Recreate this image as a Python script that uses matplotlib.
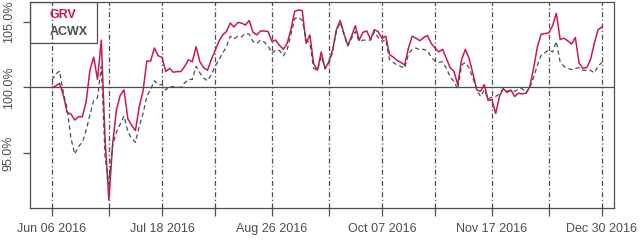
import numpy as np
import matplotlib
matplotlib.use("Agg")
import matplotlib.pyplot as plt
from matplotlib.patches import Rectangle

# cumulative wealth index in %, one value per trading day Jun 06 2016 .. Dec 30 2016
grv = [100.0, 100.1, 100.3, 99.4, 98.07, 97.96, 97.5, 97.76, 97.76, 98.9,
       101.3, 102.3, 100.6, 103.6, 96.0, 91.4, 95.7, 98.3, 99.4, 99.8,
       97.6, 97.1, 96.7, 98.5, 99.7, 102.0, 102.0, 103.0, 102.4, 102.3,
       101.2, 101.45, 101.15, 101.2, 101.2, 101.6, 102.1, 101.95, 103.1, 101.95,
       101.5, 101.3, 102.1, 102.8, 103.5, 104.0, 104.25, 104.9, 104.6, 104.95,
       104.9, 104.75, 105.1, 104.2, 104.0, 104.3, 104.3, 104.25, 103.5, 103.6,
       103.2, 102.9, 103.35, 104.4, 105.8, 105.9, 105.85, 103.35, 104.0, 101.8,
       101.3, 102.7, 101.4, 101.95, 102.85, 104.4, 105.1, 104.1, 103.2, 103.9,
       104.7, 103.6, 104.2, 104.3, 103.65, 104.4, 104.25, 103.75, 103.9, 102.5,
       102.3, 102.05, 101.9, 101.7, 103.0, 103.9, 103.75, 103.55, 103.8, 103.95,
       103.35, 103.0, 102.7, 102.9, 102.2, 101.5, 101.2, 100.2, 102.1, 102.9,
       102.2, 101.05, 99.8, 99.7, 100.2, 99.0, 99.05, 98.0, 99.3, 99.9,
       99.6, 99.8, 99.3, 99.55, 99.5, 99.55, 100.05, 101.45, 103.1, 104.05,
       104.1, 104.15, 104.7, 105.65, 103.65, 103.75, 103.55, 103.3, 103.8, 101.85,
       101.45, 101.5, 102.1, 103.35, 104.4, 104.6]
acwx = [100.56, 101.0, 101.25, 99.55, 98.4, 96.1, 94.9, 95.5, 95.8, 96.7,
        97.9, 99.0, 99.2, 101.6, 94.7, 92.6, 95.6, 96.6, 97.2, 97.8,
        96.6, 96.1, 95.8, 97.0, 98.0, 99.3, 99.85, 100.5, 100.2, 100.2,
        99.8, 100.05, 100.05, 100.0, 100.0, 100.35, 100.6, 100.6, 101.6, 101.1,
        100.7, 100.5, 100.95, 101.6, 102.1, 102.6, 103.1, 103.9, 103.7, 103.9,
        103.85, 104.1, 104.05, 103.5, 103.35, 103.6, 103.45, 103.15, 102.6, 102.85,
        102.8, 102.4, 102.85, 104.0, 105.25, 105.35, 105.1, 103.65, 103.35, 101.45,
        101.3, 102.35, 101.45, 101.8, 102.7, 104.3, 104.95, 104.0, 103.15, 103.75,
        104.25, 103.5, 103.6, 103.6, 103.6, 104.25, 103.8, 103.5, 103.65, 102.1,
        101.9, 101.7, 101.6, 101.45, 102.55, 102.9, 103.0, 102.85, 102.9, 102.8,
        102.3, 102.0, 101.9, 101.95, 101.45, 100.8, 100.45, 99.85, 101.7, 101.9,
        101.45, 100.7, 99.85, 99.3, 99.8, 99.1, 99.25, 99.3, 99.5, 99.9,
        99.7, 99.75, 99.7, 99.85, 99.9, 99.55, 100.0, 100.75, 101.7, 102.45,
        102.65, 102.85, 102.7, 103.5, 101.95, 101.6, 101.45, 101.35, 101.45, 101.5,
        101.3, 101.3, 101.3, 101.1, 101.6, 101.9]

tick_idx = [0, 15, 29, 43, 58, 73, 87, 101, 116, 131, 145]
label_idx = [0, 29, 58, 87, 116, 145]
tick_labels = ["Jun 06 2016", "Jul 18 2016", "Aug 26 2016",
               "Oct 07 2016", "Nov 17 2016", "Dec 30 2016"]
y_ticks = [95, 100, 105]

plt.rcParams['font.family'] = ['Liberation Sans', 'DejaVu Sans']
grey = "#4d4d4d"
red = "#c8175a"

fig = plt.figure(figsize=(6.4, 2.4), dpi=100)
ax = fig.add_axes([30/640, 1 - 208/240, 584/640, 206/240])

x = np.arange(len(grv))
for t in tick_idx:
    ax.axvline(t, color=grey, lw=0.9, linestyle=(0, (4, 2, 1, 2)), zorder=1)
ax.axhline(100, color=grey, lw=0.9, zorder=1)

ax.plot(x, grv, color=red, lw=1.1, zorder=3)
ax.plot(x, acwx, color=grey, lw=0.9, linestyle=(0, (3.5, 2.5)), zorder=4)

ax.set_xlim(-5.8, 148.2)
ax.set_ylim(90.79, 106.51)

ax.set_xticks(tick_idx)
ax.set_xticklabels([tick_labels[label_idx.index(t)] if t in label_idx else "" for t in tick_idx])
ax.set_yticks(y_ticks)
ax.set_yticklabels(["%.1f%%" % v for v in y_ticks], rotation=90, va="center")
ax.tick_params(axis="x", colors=grey, labelsize=9, length=6, width=0.9, pad=5)
ax.tick_params(axis="y", colors=grey, labelsize=9, length=5, width=0.9, pad=6)
for s in ax.spines.values():
    s.set_color(grey)
    s.set_linewidth(0.9)

ax.add_patch(Rectangle((0, 0.801), 0.1147, 0.199, transform=ax.transAxes,
                       fill=False, edgecolor=grey, lw=0.9, zorder=5))
ax.text(0.034, 0.937, "GRV", color=red, fontsize=9, fontweight="bold",
        transform=ax.transAxes, va="center", ha="left", zorder=6)
ax.text(0.034, 0.854, "ACWX", color=grey, fontsize=9, fontweight="bold",
        transform=ax.transAxes, va="center", ha="left", zorder=6)

fig.savefig("out.png", dpi=100)
